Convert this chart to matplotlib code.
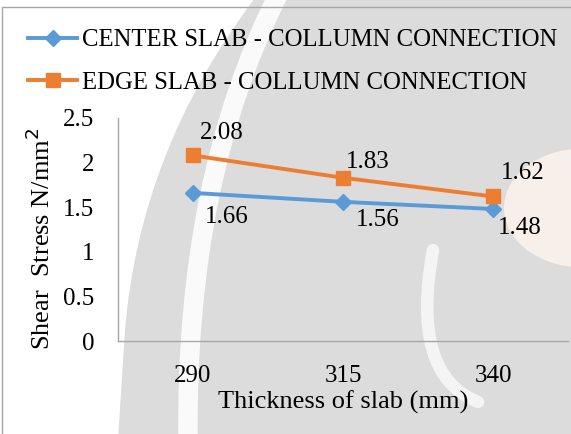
import matplotlib
matplotlib.use("Agg")
import matplotlib.pyplot as plt
from matplotlib.patches import Rectangle, Circle, PathPatch
from matplotlib.path import Path

thickness = ["290", "315", "340"]
center_stress = [1.66, 1.56, 1.48]
edge_stress = [2.08, 1.83, 1.62]
y_ticks = [0, 0.5, 1, 1.5, 2, 2.5]

plt.rcParams["font.family"] = ["Liberation Serif", "DejaVu Serif"]

W, H, DPI = 571, 434, 100
fig = plt.figure(figsize=(W / DPI, H / DPI), dpi=DPI)


def fx(px):
    return px / W


def fy(py):
    return 1 - py / H


def fig_path(pts, codes):
    return Path([(fx(a), fy(b)) for a, b in pts], codes)


# faint background logo behind the chart
logo = fig_path([(255, -2), (140, 150), (125, 330), (118, 440), (575, 440),
                 (575, -2), (255, -2)],
                [Path.MOVETO, Path.CURVE3, Path.CURVE3, Path.LINETO,
                 Path.LINETO, Path.LINETO, Path.CLOSEPOLY])
fig.patches.append(PathPatch(logo, transform=fig.transFigure,
                             facecolor="#dcdcdc", edgecolor="none", zorder=-4))
fig.patches.append(Circle((fx(582), fy(208)), 78 / W, transform=fig.transFigure,
                          facecolor="#f6efea", edgecolor="none", zorder=-3))
stripe = fig_path([(278, -5), (185, 180), (188, 440)],
                  [Path.MOVETO, Path.CURVE3, Path.CURVE3])
fig.patches.append(PathPatch(stripe, transform=fig.transFigure, fill=False,
                             edgecolor="#fafafa", lw=14, capstyle="butt",
                             zorder=-2))
hook = fig_path([(433, 250), (410, 375), (478, 402)],
                [Path.MOVETO, Path.CURVE3, Path.CURVE3])
fig.patches.append(PathPatch(hook, transform=fig.transFigure, fill=False,
                             edgecolor="#f4f4f4", lw=9, capstyle="round",
                             zorder=-2))

# outer chart frame
fig.patches.append(Rectangle((fx(2), -0.1), 1.2, (H - 7) / H + 0.1,
                             transform=fig.transFigure, fill=False,
                             edgecolor="#a6a6a6", linewidth=1.0, zorder=-1))

ax = fig.add_axes([fx(118), fy(341), 450 / W, 223 / H])
x = list(range(len(thickness)))

blue = "#5B9BD5"
orange = "#ED7D31"
l1, = ax.plot(x, center_stress, color=blue, lw=2.8, marker="D", ms=8.5,
              label="CENTER SLAB - COLLUMN CONNECTION")
l2, = ax.plot(x, edge_stress, color=orange, lw=2.8, marker="s", ms=10,
              label="EDGE SLAB - COLLUMN CONNECTION")

ax.set_xlim(-0.5, 2.5)
ax.set_ylim(0, 2.5)
ax.set_xticks(x)
ax.set_xticklabels(thickness, fontsize=18)
ax.set_yticks(y_ticks)
ax.set_yticklabels([f"{v:g}" for v in y_ticks], fontsize=18)
ax.tick_params(axis="y", length=0, pad=17)
ax.tick_params(axis="x", length=0, pad=17)
for s in ["top", "right"]:
    ax.spines[s].set_visible(False)
for s in ["left", "bottom"]:
    ax.spines[s].set_color("#a6a6a6")
    ax.spines[s].set_linewidth(1.0)
ax.patch.set_alpha(0)

# value labels
edge_off = [(29, 22), (25, 16), (30, 23)]
center_off = [(34, -24), (35, -18), (27, -19)]
for xi, v, off in zip(x, edge_stress, edge_off):
    ax.annotate(f"{v:.2f}", (xi, v), xytext=off, textcoords="offset pixels",
                ha="center", va="center", fontsize=18)
for xi, v, off in zip(x, center_stress, center_off):
    ax.annotate(f"{v:.2f}", (xi, v), xytext=off, textcoords="offset pixels",
                ha="center", va="center", fontsize=18)

ax.set_xlabel("Thickness of slab (mm)", fontsize=19, labelpad=3)
ax.set_ylabel("Shear  Stress N/mm$^2$", fontsize=19)
ax.yaxis.set_label_coords(-0.141, 0.46)

fig.legend(handles=[l1, l2], loc="upper left", bbox_to_anchor=(fx(28), fy(29)),
           frameon=False, fontsize=17.8, handlelength=2.0, handletextpad=0.17,
           labelspacing=0.82, borderaxespad=0, borderpad=0)

fig.savefig("out.png", dpi=DPI)
